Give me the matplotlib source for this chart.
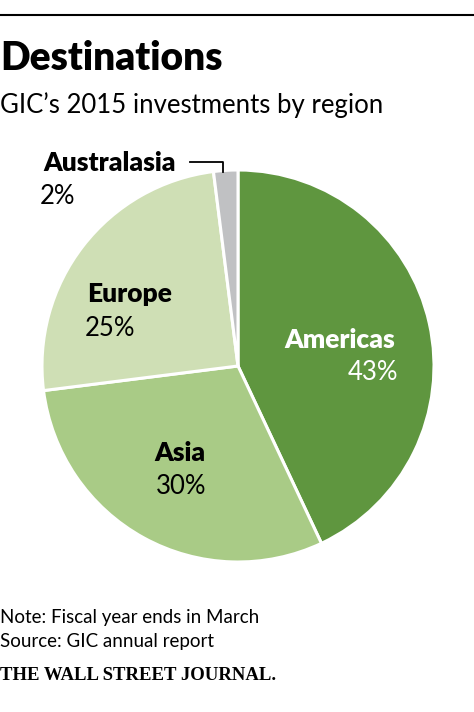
import matplotlib
matplotlib.use('Agg')
import matplotlib.pyplot as plt

regions = ['Americas', 'Asia', 'Europe', 'Australasia']
shares = [43, 30, 25, 2]
colors = ['#5f963f', '#a9cb86', '#cfdfb5', '#c0c1c3']
label_colors = ['white', 'black', 'black', 'black']

W, H = 474, 712
plt.rcParams['font.family'] = ['Lato', 'DejaVu Sans']

fig = plt.figure(figsize=(W/100, H/100), dpi=100)
bg = fig.add_axes([0, 0, 1, 1])
bg.set_xlim(0, W)
bg.set_ylim(H, 0)
bg.axis('off')

# top rule
bg.plot([0, W], [15, 15], color='black', lw=1.5)

# title block
bg.text(0, 58, 'Destinations', fontsize=28, fontweight='heavy', va='center', ha='left')
bg.text(0, 105, 'GIC\u2019s 2015 investments by region', fontsize=18.5, va='center', ha='left')

# pie
cx, cy, r = 238, 366, 196
ax = fig.add_axes([(cx-r)/W, 1-(cy+r)/H, 2*r/W, 2*r/H])
ax.pie(shares, colors=colors, startangle=90, counterclock=False, radius=1,
       wedgeprops={'edgecolor': 'white', 'linewidth': 2.2})
ax.set_xlim(-1, 1)
ax.set_ylim(-1, 1)

# labels
name_pos = [(340, 340), (180, 453), (130, 294), (110, 163)]
pct_pos = [(373, 373), (181, 486), (110, 328), (58, 197)]
for i in range(len(regions)):
    bg.text(name_pos[i][0], name_pos[i][1], regions[i], fontsize=19, fontweight='heavy',
            color=label_colors[i], ha='center', va='center', zorder=5)
    bg.text(pct_pos[i][0], pct_pos[i][1], str(shares[i]) + '%', fontsize=18.5,
            color=label_colors[i], ha='center', va='center', zorder=5)
bg.set_zorder(3)

# leader for Australasia
bg.plot([190, 223, 223], [162, 162, 172], color='black', lw=1.3)

# footer
bg.text(0, 617, 'Note: Fiscal year ends in March', fontsize=13.5, va='center', ha='left')
bg.text(0, 642, 'Source: GIC annual report', fontsize=13.5, va='center', ha='left')
bg.text(0, 676, 'THE WALL STREET JOURNAL.', fontsize=13.5, fontweight='bold',
        family=['Liberation Serif', 'DejaVu Serif'], va='center', ha='left')

fig.savefig('out.png', dpi=100)
